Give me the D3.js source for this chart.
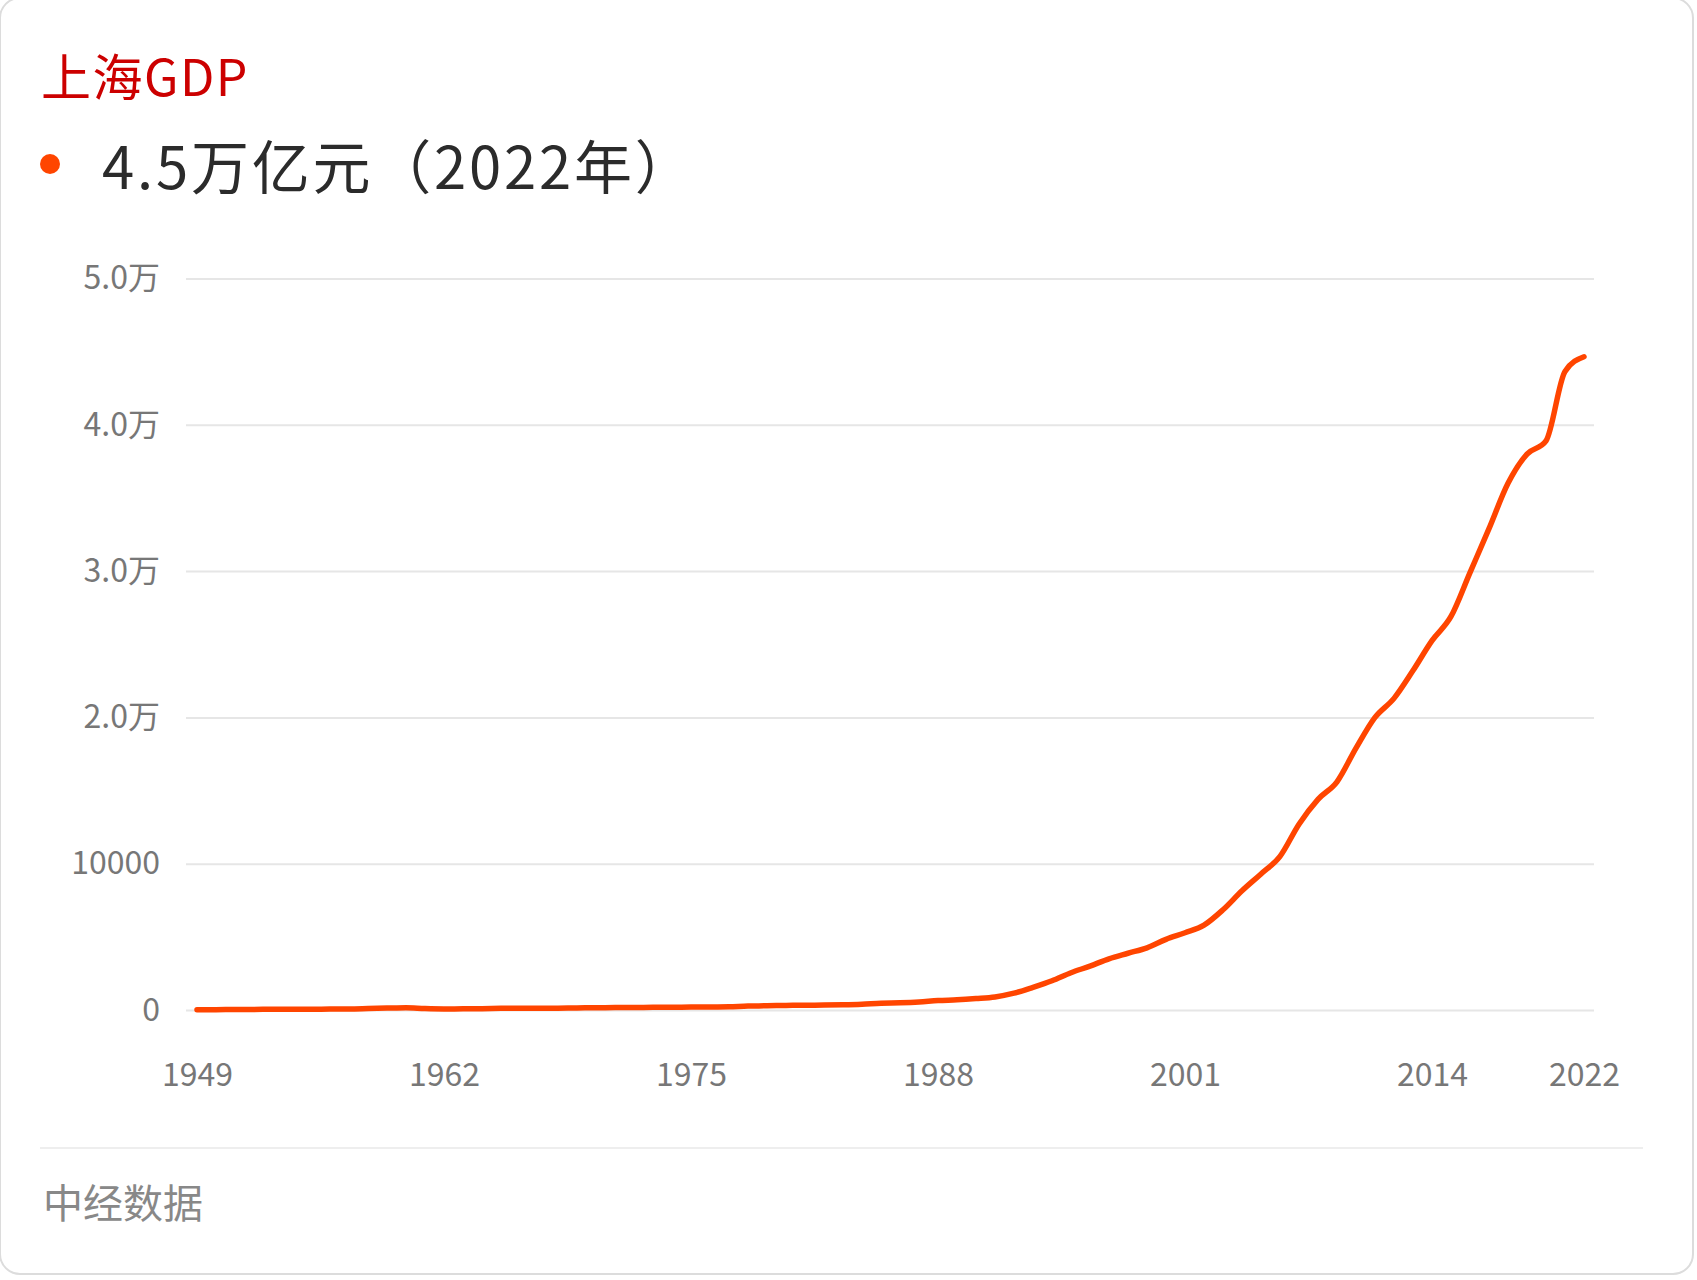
<!DOCTYPE html>
<html>
<head>
<meta charset="utf-8">
<script src="https://cdn.jsdelivr.net/npm/d3@7"></script>
<style>
  html, body { margin: 0; padding: 0; background: #fff; }
  svg { display: block; font-family: "Noto Sans CJK SC", "Noto Sans", sans-serif; }
</style>
</head>
<body>
<svg id="chart" width="1697" height="1280"></svg>
<script>
// 上海GDP, 亿元
const years = d3.range(1949, 2023);
const gdp = [
  20.3, 23.7, 31.8, 36.7, 50.4, 52.6, 53.8, 64.4, 69.7, 98.3,
  130.6, 158.4, 99.6, 72.7, 79.1, 89.2, 113.6, 125.4, 115.3, 123.7,
  142.8, 156.7, 163.3, 170.5, 183.9, 191.1, 199.6, 204.3, 219.0, 272.8,
  286.4, 311.9, 324.8, 337.1, 351.8, 390.9, 466.8, 490.8, 545.5, 648.3,
  696.5, 781.7, 893.8, 1150, 1550, 2000, 2550, 3000, 3500, 3880,
  4250, 4830, 5280, 5800, 6850, 8150, 9300, 10500, 12700, 14400,
  15600, 17900, 20000, 21300, 23200, 25250, 26900, 29900, 32900, 36000,
  38000, 38900, 43650, 44650
];
const yTicks = [0, 10000, 20000, 30000, 40000, 50000];
const yTickLabels = ["0", "10000", "2.0万", "3.0万", "4.0万", "5.0万"];
const xTicks = [1949, 1962, 1975, 1988, 2001, 2014, 2022];

const title = "上海GDP";
const headline = "4.5万亿元（2022年）";
const source = "中经数据";

const svg = d3.select("#chart");

// card
svg.append("rect")
  .attr("x", 0).attr("y", -2)
  .attr("width", 1693).attr("height", 1276)
  .attr("rx", 20)
  .attr("fill", "#fff")
  .attr("stroke", "#dcdcdc")
  .attr("stroke-width", 2);

svg.append("text")
  .attr("x", 41).attr("y", 96)
  .attr("font-size", 50)
  .attr("letter-spacing", 1.5)
  .attr("fill", "#cc0000")
  .text(title);

svg.append("circle")
  .attr("cx", 50).attr("cy", 164)
  .attr("r", 10)
  .attr("fill", "#ff4500");

svg.append("text")
  .attr("x", 102).attr("y", 189)
  .attr("font-size", 58)
  .attr("letter-spacing", 2.8)
  .attr("fill", "#2b2b2b")
  .text(headline);

const gridLeft = 186, gridRight = 1594;
const x = d3.scaleLinear().domain([1949, 2022]).range([197, 1584]);
const y = d3.scaleLinear().domain([0, 50000]).range([1010, 278.5]);

const yAxis = d3.axisLeft(y)
  .tickValues(yTicks)
  .tickFormat((d, i) => yTickLabels[i])
  .tickSize(-(gridRight - gridLeft))
  .tickPadding(26);

const gy = svg.append("g")
  .attr("transform", `translate(${gridLeft},0)`)
  .call(yAxis);
gy.select(".domain").remove();
gy.selectAll(".tick line").attr("stroke", "#e6e6e6").attr("stroke-width", 2);
gy.selectAll(".tick text")
  .attr("font-size", 32)
  .attr("fill", "#777")
  .attr("font-family", "\"Noto Sans CJK SC\", sans-serif");

const xAxis = d3.axisBottom(x)
  .tickValues(xTicks)
  .tickFormat(d3.format("d"))
  .tickSize(0)
  .tickPadding(53);

const gx = svg.append("g")
  .attr("transform", `translate(0,${y(0)})`)
  .call(xAxis);
gx.select(".domain").remove();
gx.selectAll(".tick text")
  .attr("font-size", 32)
  .attr("fill", "#777")
  .attr("font-family", "\"Noto Sans CJK SC\", sans-serif");

const line = d3.line()
  .x((d, i) => x(years[i]))
  .y(d => y(d))
  .curve(d3.curveMonotoneX);

svg.append("path")
  .datum(gdp)
  .attr("d", line)
  .attr("fill", "none")
  .attr("stroke", "#ff4500")
  .attr("stroke-width", 5.5)
  .attr("stroke-linecap", "round")
  .attr("stroke-linejoin", "round");

// footer
svg.append("line")
  .attr("x1", 40).attr("x2", 1643)
  .attr("y1", 1148).attr("y2", 1148)
  .attr("stroke", "#eeeeee")
  .attr("stroke-width", 2);

svg.append("text")
  .attr("x", 43).attr("y", 1218)
  .attr("font-size", 40)
  .attr("fill", "#888")
  .text(source);
</script>
</body>
</html>
